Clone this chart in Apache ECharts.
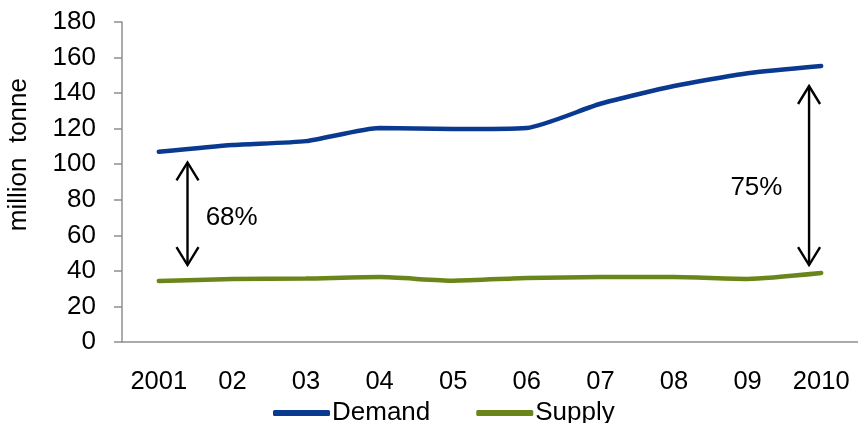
<!DOCTYPE html>
<html>
<head>
<meta charset="utf-8">
<script src="https://cdn.jsdelivr.net/npm/echarts@6/dist/echarts.min.js"></script>
<style>html,body{margin:0;padding:0;background:#fff;}#c{width:858px;height:423px;}</style>
</head>
<body>
<div id="c"></div>
<script>
var categories = ['2001','02','03','04','05','06','07','08','09','2010'];
var demand = [107, 110.8, 113, 120.4, 119.8, 120.4, 134, 144, 151.2, 155.3];
var supply = [34.3, 35.4, 35.7, 36.5, 34.5, 36, 36.5, 36.5, 35.5, 38.8];
var yTicks = {min: 0, max: 180, interval: 20};
// annotations: x in category index units, y in million tonnes
var arrowX = [0.39, 8.835];
var arrowTop = [101, 144];
var arrowBottom = [43.3, 43.3];
var noteText = ['68%', '75%'];
var noteX = [0.99, 8.12];
var noteY = [70, 86.6];

var FONT = 'Liberation Sans, Arial, sans-serif';
var chart = echarts.init(document.getElementById('c'));

var arrowData = arrowX.map(function (x, i) { return [x, arrowTop[i], arrowBottom[i]]; });
var noteData = noteX.map(function (x, i) { return [x, noteY[i], noteText[i]]; });

chart.setOption({
  animation: false,
  backgroundColor: '#fff',
  grid: {left: 122, top: 22, right: -2, bottom: 81, containLabel: false},
  legend: {
    left: 268, top: 395,
    itemWidth: 57, itemHeight: 6, itemGap: 46,
    icon: 'roundRect',
    textStyle: {fontFamily: FONT, fontSize: 26, color: '#000', padding: [0, 0, 0, -3]},
    data: ['Demand', 'Supply']
  },
  graphic: [{
    type: 'text', left: 6, top: 78,
    rotation: Math.PI / 2,
    style: {text: 'million  tonne', fontFamily: FONT, fontSize: 26, fill: '#000'}
  }],
  xAxis: [{
    type: 'category', data: categories, boundaryGap: true,
    axisLine: {onZero: false, lineStyle: {color: '#8f8f8f', width: 1.5}},
    axisTick: {length: 9, interval: 0, lineStyle: {color: '#8f8f8f', width: 1.5}},
    axisLabel: {fontFamily: FONT, fontSize: 25.5, color: '#000', margin: 27, interval: 0, hideOverlap: false},
    splitLine: {show: false}
  }, {
    type: 'value', min: -0.5, max: 9.5, show: false
  }],
  yAxis: {
    type: 'value', min: yTicks.min, max: yTicks.max, interval: yTicks.interval,
    axisLine: {show: true, onZero: false, lineStyle: {color: '#8f8f8f', width: 1.5}},
    axisTick: {show: true, length: 8, lineStyle: {color: '#8f8f8f', width: 1.5}},
    axisLabel: {fontFamily: FONT, fontSize: 26, color: '#000', margin: 26},
    splitLine: {show: false}
  },
  series: [{
    name: 'Demand', type: 'line', data: demand, smooth: 0.2,
    showSymbol: false, symbol: 'none',
    itemStyle: {color: '#0a3990'},
    lineStyle: {color: '#0a3990', width: 4.5, cap: 'round'}
  }, {
    name: 'Supply', type: 'line', data: supply, smooth: 0.2,
    showSymbol: false, symbol: 'none',
    itemStyle: {color: '#6a861a'},
    lineStyle: {color: '#6a861a', width: 4.5, cap: 'round'}
  }, {
    type: 'custom', xAxisIndex: 1, data: arrowData, silent: true,
    renderItem: function (params, api) {
      var p1 = api.coord([api.value(0), api.value(1)]);
      var p2 = api.coord([api.value(0), api.value(2)]);
      var st = {stroke: '#000', lineWidth: 2.4, fill: null};
      return {type: 'group', children: [
        {type: 'line', shape: {x1: p1[0], y1: p1[1], x2: p2[0], y2: p2[1]}, style: st},
        {type: 'polyline', shape: {points: [[p1[0] - 11, p1[1] + 18], [p1[0], p1[1]], [p1[0] + 11, p1[1] + 18]]}, style: st},
        {type: 'polyline', shape: {points: [[p2[0] - 11, p2[1] - 18], [p2[0], p2[1]], [p2[0] + 11, p2[1] - 18]]}, style: st}
      ]};
    }
  }, {
    type: 'custom', xAxisIndex: 1, data: noteData, silent: true,
    renderItem: function (params, api) {
      var p = api.coord([api.value(0), api.value(1)]);
      return {type: 'text', x: p[0], y: p[1], style: {
        text: noteText[params.dataIndex], fontFamily: FONT, fontSize: 26, fill: '#000',
        align: 'center', verticalAlign: 'middle'
      }};
    }
  }]
});
</script>
</body>
</html>
